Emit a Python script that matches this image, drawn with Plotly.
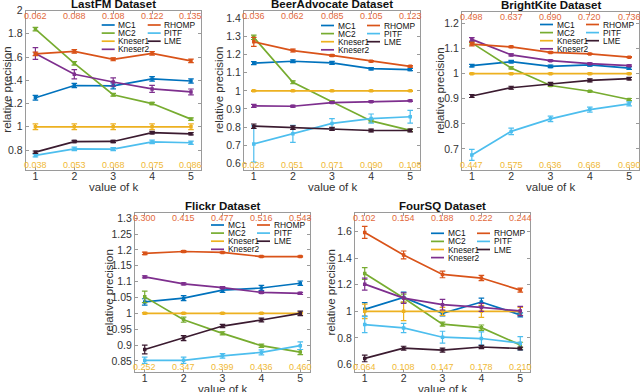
import plotly.graph_objects as go

k = [1, 2, 3, 4, 5]
methods = ["MC1", "MC2", "Kneser1", "Kneser2", "RHOMP", "PITF", "LME"]
colors = {"MC1": "#0072BD", "MC2": "#77AC30", "Kneser1": "#EDB120", "Kneser2": "#7E2F8E",
          "RHOMP": "#D95319", "PITF": "#4DBEEE", "LME": "#3B1B30"}

# ---- LastFM ----
lastfm_mc1 = [1.25, 1.355, 1.352, 1.412, 1.394]
lastfm_mc1_err = [0.02, 0.018, 0.025, 0.02, 0.018]
lastfm_mc2 = [1.84, 1.546, 1.276, 1.2, 1.066]
lastfm_mc2_err = [0.015, 0.015, 0.012, 0.01, 0.01]
lastfm_kneser1 = [1, 1, 1, 1, 1]
lastfm_kneser1_err = [0.025, 0.025, 0.025, 0.025, 0.025]
lastfm_kneser2 = [1.63, 1.452, 1.385, 1.326, 1.30]
lastfm_kneser2_err = [0.05, 0.04, 0.035, 0.03, 0.025]
lastfm_rhomp = [1.627, 1.648, 1.58, 1.632, 1.567]
lastfm_rhomp_err = [0.015, 0.015, 0.012, 0.015, 0.015]
lastfm_pitf = [0.754, 0.81, 0.808, 0.87, 0.863]
lastfm_pitf_err = [0.012, 0.015, 0.013, 0.015, 0.014]
lastfm_lme = [0.782, 0.873, 0.874, 0.95, 0.94]
lastfm_lme_err = [0.01, 0.01, 0.01, 0.01, 0.01]
lastfm_top = ["0.062", "0.088", "0.108", "0.122", "0.135"]
lastfm_bottom = ["0.038", "0.053", "0.068", "0.075", "0.086"]

# ---- BeerAdvocate ----
beer_mc1 = [1.153, 1.163, 1.154, 1.122, 1.117]
beer_mc1_err = [0.008, 0.008, 0.008, 0.006, 0.006]
beer_mc2 = [1.295, 1.047, 0.94, 0.834, 0.782]
beer_mc2_err = [0.012, 0.008, 0.006, 0.006, 0.006]
beer_kneser1 = [1, 1, 1, 1, 1]
beer_kneser1_err = [0.003, 0.003, 0.003, 0.003, 0.003]
beer_kneser2 = [0.917, 0.915, 0.935, 0.94, 0.945]
beer_kneser2_err = [0.008, 0.005, 0.005, 0.004, 0.004]
beer_rhomp = [1.27, 1.222, 1.195, 1.163, 1.135]
beer_rhomp_err = [0.025, 0.008, 0.005, 0.004, 0.004]
beer_pitf = [0.707, 0.763, 0.82, 0.847, 0.857]
beer_pitf_err = [0.1, 0.047, 0.027, 0.025, 0.035]
beer_lme = [0.805, 0.797, 0.79, 0.781, 0.781]
beer_lme_err = [0.012, 0.01, 0.008, 0.008, 0.008]
beer_top = ["0.036", "0.062", "0.085", "0.105", "0.123"]
beer_bottom = ["0.028", "0.051", "0.071", "0.090", "0.108"]

# ---- BrightKite ----
bk_mc1 = [1.032, 1.048, 1.029, 1.035, 1.022]
bk_mc1_err = [0.005, 0.005, 0.005, 0.005, 0.005]
bk_mc2 = [1.123, 1.023, 0.953, 0.93, 0.897]
bk_mc2_err = [0.005, 0.004, 0.004, 0.003, 0.004]
bk_kneser1 = [1, 1, 1, 1, 1]
bk_kneser1_err = [0.002, 0.002, 0.002, 0.002, 0.002]
bk_kneser2 = [1.137, 1.075, 1.052, 1.04, 1.032]
bk_kneser2_err = [0.007, 0.004, 0.003, 0.003, 0.003]
bk_rhomp = [1.118, 1.107, 1.085, 1.079, 1.066]
bk_rhomp_err = [0.007, 0.003, 0.003, 0.002, 0.002]
bk_pitf = [0.676, 0.77, 0.82, 0.857, 0.88]
bk_pitf_err = [0.022, 0.013, 0.011, 0.01, 0.008]
bk_lme = [0.911, 0.944, 0.959, 0.973, 0.98]
bk_lme_err = [0.006, 0.006, 0.006, 0.006, 0.005]
bk_top = ["0.498", "0.637", "0.690", "0.720", "0.736"]
bk_bottom = ["0.447", "0.575", "0.636", "0.668", "0.690"]

# ---- Flickr ----
flickr_mc1 = [1.036, 1.048, 1.073, 1.08, 1.095]
flickr_mc1_err = [0.01, 0.008, 0.007, 0.008, 0.007]
flickr_mc2 = [1.052, 0.98, 0.937, 0.898, 0.878]
flickr_mc2_err = [0.018, 0.008, 0.005, 0.005, 0.008]
flickr_kneser1 = [1, 1, 1, 1, 1]
flickr_kneser1_err = [0.002, 0.002, 0.002, 0.002, 0.002]
flickr_kneser2 = [1.115, 1.093, 1.081, 1.066, 1.063]
flickr_kneser2_err = [0.003, 0.003, 0.003, 0.003, 0.003]
flickr_rhomp = [1.189, 1.195, 1.192, 1.179, 1.179]
flickr_rhomp_err = [0.004, 0.003, 0.002, 0.002, 0.002]
flickr_pitf = [0.852, 0.852, 0.866, 0.877, 0.898]
flickr_pitf_err = [0.01, 0.01, 0.007, 0.008, 0.012]
flickr_lme = [0.886, 0.922, 0.96, 0.979, 1.0]
flickr_lme_err = [0.014, 0.008, 0.005, 0.006, 0.007]
flickr_top = ["0.300", "0.415", "0.477", "0.516", "0.543"]
flickr_bottom = ["0.252", "0.347", "0.399", "0.436", "0.460"]

# ---- FourSQ ----
fsq_mc1 = [1.015, 1.105, 0.985, 1.07, 0.973]
fsq_mc1_err = [0.05, 0.04, 0.02, 0.03, 0.015]
fsq_mc2 = [1.285, 1.1, 0.903, 0.877, 0.747]
fsq_mc2_err = [0.045, 0.03, 0.015, 0.02, 0.02]
fsq_kneser1 = [1, 1, 1, 1, 1]
fsq_kneser1_err = [0.055, 0.07, 0.03, 0.045, 0.03]
fsq_kneser2 = [1.205, 1.1, 1.05, 1.03, 1.003]
fsq_kneser2_err = [0.045, 0.04, 0.04, 0.03, 0.035]
fsq_rhomp = [1.595, 1.425, 1.278, 1.251, 1.16]
fsq_rhomp_err = [0.045, 0.03, 0.025, 0.02, 0.015]
fsq_pitf = [0.9, 0.875, 0.805, 0.795, 0.76]
fsq_pitf_err = [0.06, 0.035, 0.045, 0.05, 0.05]
fsq_lme = [0.645, 0.722, 0.708, 0.731, 0.72]
fsq_lme_err = [0.025, 0.015, 0.015, 0.012, 0.01]
fsq_top = ["0.102", "0.154", "0.188", "0.222", "0.244"]
fsq_bottom = ["0.064", "0.108", "0.147", "0.178", "0.210"]

# tick values per panel
lastfm_yticks = [0.8, 1, 1.2, 1.4, 1.6, 1.8, 2]
beer_yticks = [0.6, 0.7, 0.8, 0.9, 1, 1.1, 1.2, 1.3, 1.4]
bk_yticks = [0.7, 0.8, 0.9, 1, 1.1, 1.2]
flickr_yticks = [0.85, 0.9, 0.95, 1, 1.05, 1.1, 1.15, 1.2, 1.25, 1.3]
fsq_yticks = [0.6, 0.8, 1, 1.2, 1.4, 1.6]

W, H = 640, 392
FONT = "Liberation Sans, Arial, sans-serif"
TXT = "#333333"
FRAME = "#9a9a9a"

panels = [
    dict(title="LastFM Dataset",
         series=[lastfm_mc1, lastfm_mc2, lastfm_kneser1, lastfm_kneser2, lastfm_rhomp, lastfm_pitf, lastfm_lme],
         errs=[lastfm_mc1_err, lastfm_mc2_err, lastfm_kneser1_err, lastfm_kneser2_err, lastfm_rhomp_err, lastfm_pitf_err, lastfm_lme_err],
         top=lastfm_top, bottom=lastfm_bottom, yticks=lastfm_yticks,
         px=(25.7, 200.7), py=(10.5, 169.5), yr=(0.633, 2.0), leg=14.5, ylab=19),
    dict(title="BeerAdvocate Dataset",
         series=[beer_mc1, beer_mc2, beer_kneser1, beer_kneser2, beer_rhomp, beer_pitf, beer_lme],
         errs=[beer_mc1_err, beer_mc2_err, beer_kneser1_err, beer_kneser2_err, beer_rhomp_err, beer_pitf_err, beer_lme_err],
         top=beer_top, bottom=beer_bottom, yticks=beer_yticks,
         px=(244, 420), py=(10.5, 169.5), yr=(0.566, 1.443), leg=15, ylab=25),
    dict(title="BrightKite Dataset",
         series=[bk_mc1, bk_mc2, bk_kneser1, bk_kneser2, bk_rhomp, bk_pitf, bk_lme],
         errs=[bk_mc1_err, bk_mc2_err, bk_kneser1_err, bk_kneser2_err, bk_rhomp_err, bk_pitf_err, bk_lme_err],
         top=bk_top, bottom=bk_bottom, yticks=bk_yticks,
         px=(462, 639), py=(12, 169.5), yr=(0.618, 1.246), leg=12.5, ylab=22),
    dict(title="Flickr Dataset",
         series=[flickr_mc1, flickr_mc2, flickr_kneser1, flickr_kneser2, flickr_rhomp, flickr_pitf, flickr_lme],
         errs=[flickr_mc1_err, flickr_mc2_err, flickr_kneser1_err, flickr_kneser2_err, flickr_rhomp_err, flickr_pitf_err, flickr_lme_err],
         top=flickr_top, bottom=flickr_bottom, yticks=flickr_yticks,
         px=(135, 310), py=(213.3, 371.7), yr=(0.816, 1.3155), leg=11.7, ylab=27),
    dict(title="FourSQ Dataset",
         series=[fsq_mc1, fsq_mc2, fsq_kneser1, fsq_kneser2, fsq_rhomp, fsq_pitf, fsq_lme],
         errs=[fsq_mc1_err, fsq_mc2_err, fsq_kneser1_err, fsq_kneser2_err, fsq_rhomp_err, fsq_pitf_err, fsq_lme_err],
         top=fsq_top, bottom=fsq_bottom, yticks=fsq_yticks,
         px=(355, 530), py=(213.3, 371.7), yr=(0.545, 1.739), leg=20, ylab=25),
]

fig = go.Figure()
annotations = []
shapes = []


def fmt(v):
    return ("%.2f" % v).rstrip("0").rstrip(".")


for i, p in enumerate(panels):
    n = "" if i == 0 else str(i + 1)
    xa, ya = "x" + n, "y" + n
    for m, vals, err in zip(methods, p["series"], p["errs"]):
        fig.add_trace(go.Scatter(
            x=k, y=vals, xaxis=xa, yaxis=ya, mode="lines+markers", name=m, showlegend=False,
            line=dict(color=colors[m], width=1.7),
            marker=dict(symbol="square", size=3.5, color=colors[m]),
            error_y=dict(type="data", array=err, visible=True, color=colors[m], thickness=1.2, width=2.8),
        ))
    dom_x = [p["px"][0] / W, p["px"][1] / W]
    dom_y = [1 - p["py"][1] / H, 1 - p["py"][0] / H]
    axcommon = dict(showline=True, mirror="ticks", linecolor=FRAME, linewidth=1, ticks="inside",
                    ticklen=3, tickcolor=FRAME, showgrid=False, zeroline=False, automargin=False,
                    tickfont=dict(family=FONT, size=10.5, color=TXT))
    fig.update_layout(**{
        ("xaxis" + n): dict(domain=dom_x, anchor=ya, range=[0.75, 5.25], tickvals=k,
                            ticktext=[str(v) for v in k], ticklabelstandoff=-3, **axcommon),
        ("yaxis" + n): dict(domain=dom_y, anchor=xa, range=list(p["yr"]), tickvals=p["yticks"],
                            ticktext=[fmt(v) for v in p["yticks"]], **axcommon),
    })
    xd, yd = xa + " domain", ya + " domain"
    # title
    annotations.append(dict(xref=xd, yref=yd, x=0.5, y=1, yanchor="bottom", yshift=-1, showarrow=False,
                            text="<b>%s</b>" % p["title"], font=dict(family=FONT, size=11.5, color="#111111")))
    # axis labels
    annotations.append(dict(xref=xd, yref=yd, x=0, y=0.5, xshift=-p["ylab"], textangle=-90, showarrow=False,
                            xanchor="center", yanchor="middle",
                            text="relative precision", font=dict(family=FONT, size=11.5, color=TXT)))
    annotations.append(dict(xref=xd, yref=yd, x=0.5, y=0, yshift=-17.5, showarrow=False,
                            xanchor="center", yanchor="middle",
                            text="value of k", font=dict(family=FONT, size=11.5, color=TXT)))
    # precision values on top and bottom
    for xv, t in zip(k, p["top"]):
        annotations.append(dict(xref=xa, yref=yd, x=xv, y=1, yshift=-5, yanchor="middle", showarrow=False,
                                text=t, font=dict(family=FONT, size=9, color="#E2693B")))
    for xv, t in zip(k, p["bottom"]):
        annotations.append(dict(xref=xa, yref=yd, x=xv, y=0, yshift=5, yanchor="middle", showarrow=False,
                                text=t, font=dict(family=FONT, size=9, color="#F0B936")))
    # legend (two columns, MATLAB style)
    cols = [methods[:4], methods[4:]]
    colx = [-99, -53]
    for c, names in enumerate(cols):
        for r, m in enumerate(names):
            yy = -(p["leg"] + r * 8.1)
            shapes.append(dict(type="line", xref=xd, yref=yd, xsizemode="pixel", ysizemode="pixel",
                               xanchor=1, yanchor=1, x0=colx[c], x1=colx[c] + 13, y0=yy, y1=yy,
                               line=dict(color=colors[m], width=1.7)))
            annotations.append(dict(xref=xd, yref=yd, x=1, y=1, xshift=colx[c] + 14.5, yshift=yy,
                                    xanchor="left", yanchor="middle", showarrow=False, text=m,
                                    font=dict(family=FONT, size=8.4, color="#111111")))

fig.update_layout(template="none", width=W, height=H, margin=dict(l=0, r=0, t=0, b=0, autoexpand=False),
                  plot_bgcolor="white", paper_bgcolor="white", annotations=annotations, shapes=shapes,
                  showlegend=False, font=dict(family=FONT))
fig.write_html("out.html", config={"displayModeBar": False},
               post_script="document.documentElement.style.margin='0';document.body.style.margin='0';"
                           "document.body.style.padding='0';document.body.style.overflow='hidden';")
